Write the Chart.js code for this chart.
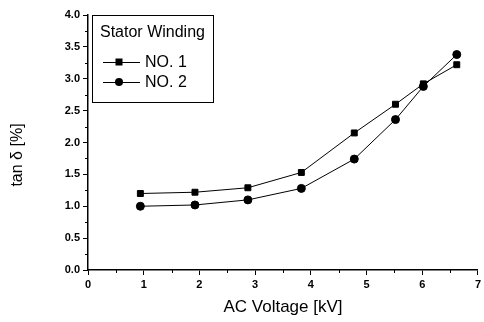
<!DOCTYPE html>
<html>
<head>
<meta charset="utf-8">
<script src="https://cdn.jsdelivr.net/npm/chart.js@4"></script>
<style>
  html, body { margin: 0; padding: 0; background: #fff; }
  #wrap { width: 484px; height: 322px; position: relative; }
</style>
</head>
<body>
<div id="wrap"><canvas id="c"></canvas></div>
<script>
// tan delta vs AC voltage, two stator windings
const VOLTAGE = [0.94, 1.92, 2.87, 3.83, 4.78, 5.52, 6.02, 6.62];
const NO1 = [1.20, 1.22, 1.29, 1.53, 2.15, 2.60, 2.92, 3.22];
const NO2 = [1.00, 1.02, 1.10, 1.28, 1.74, 2.36, 2.88, 3.38];
const SERIES_LABELS = ['NO. 1', 'NO. 2'];
const LEGEND_TITLE = 'Stator Winding';
const X_TITLE = 'AC Voltage [kV]';
const Y_TITLE = 'tan \u03b4 [%]';

const FONT = 'Arial, "Liberation Sans", Helvetica, sans-serif';

function pts(ys) { return ys.map((y, i) => ({ x: VOLTAGE[i], y })); }

// minor ticks halfway between the major ones, pointing outward
const minorTicks = {
  id: 'minorTicks',
  afterDraw(chart) {
    const c = chart.ctx, xs = chart.scales.x, ys = chart.scales.y;
    c.save();
    c.strokeStyle = '#000';
    c.lineWidth = 1;
    c.beginPath();
    for (let v = 0.5; v < 7; v += 1) {
      const px = Math.round(xs.getPixelForValue(v)) + 0.5;
      c.moveTo(px, xs.top); c.lineTo(px, xs.top + 3);
    }
    for (let v = 0.25; v < 4; v += 0.5) {
      const py = Math.round(ys.getPixelForValue(v)) + 0.5;
      c.moveTo(ys.right, py); c.lineTo(ys.right - 3, py);
    }
    c.stroke();
    c.restore();
  }
};

// y title sits a bit below the middle of the axis in the original
const yTitle = {
  id: 'yTitle',
  afterDraw(chart) {
    const c = chart.ctx;
    c.save();
    c.translate(18, 155);
    c.rotate(-Math.PI / 2);
    c.fillStyle = '#000';
    c.font = '16px ' + FONT;
    c.textAlign = 'center';
    c.textBaseline = 'middle';
    c.fillText(Y_TITLE, 0, 0);
    c.restore();
  }
};

// boxed legend inside the plot, top left
const boxLegend = {
  id: 'boxLegend',
  afterDraw(chart) {
    const c = chart.ctx;
    const x0 = 92, y0 = 15, w = 121, h = 87;
    c.save();
    c.fillStyle = '#fff';
    c.fillRect(x0, y0, w, h);
    c.strokeStyle = '#000';
    c.lineWidth = 1;
    c.strokeRect(x0 + 0.5, y0 + 0.5, w, h);
    c.fillStyle = '#000';
    c.font = '16px ' + FONT;
    c.textBaseline = 'middle';
    c.fillText(LEGEND_TITLE, x0 + 8, y0 + 18);
    chart.data.datasets.forEach((ds, i) => {
      const y = y0 + 47 + i * 20;
      c.beginPath();
      c.moveTo(x0 + 11, y + 0.5); c.lineTo(x0 + 48, y + 0.5);
      c.stroke();
      const mx = x0 + 27;
      if (ds.pointStyle === 'rect') {
        c.fillRect(mx - 3.5, y - 3.5, 7, 7);
      } else {
        c.beginPath(); c.arc(mx, y, 4, 0, Math.PI * 2); c.fill();
      }
      c.fillText(ds.label, x0 + 53, y + 1);
    });
    c.restore();
  }
};

new Chart(document.getElementById('c'), {
  type: 'line',
  data: {
    datasets: [
      {
        label: SERIES_LABELS[0], data: pts(NO1),
        borderColor: '#000', backgroundColor: '#000', borderWidth: 1,
        pointStyle: 'rect', pointRadius: 4.2, tension: 0
      },
      {
        label: SERIES_LABELS[1], data: pts(NO2),
        borderColor: '#000', backgroundColor: '#000', borderWidth: 1,
        pointStyle: 'circle', pointRadius: 4, tension: 0
      }
    ]
  },
  options: {
    responsive: true,
    maintainAspectRatio: false,
    animation: false,
    layout: { padding: { top: 15, right: 6, bottom: 0, left: 0 } },
    plugins: { legend: { display: false }, tooltip: { enabled: false } },
    scales: {
      x: {
        type: 'linear', min: 0, max: 7,
        afterFit(s) { s.height = 52; },
        ticks: { stepSize: 1, color: '#000', padding: 3,
                 font: { family: FONT, size: 11, weight: 'bold' } },
        grid: { drawOnChartArea: false, drawTicks: true, tickLength: 5, color: '#000' },
        border: { color: '#000', width: 1.5 },
        title: { display: true, text: X_TITLE, color: '#000',
                 font: { family: FONT, size: 17 }, padding: { top: 6, bottom: 4 } }
      },
      y: {
        min: 0, max: 4,
        afterFit(s) { s.width = 88; },
        ticks: { stepSize: 0.5, color: '#000', padding: 3,
                 font: { family: FONT, size: 11, weight: 'bold' },
                 callback: v => v.toFixed(1) },
        grid: { drawOnChartArea: false, drawTicks: true, tickLength: 5, color: '#000' },
        border: { color: '#000', width: 1.5 },
        title: { display: false }
      }
    }
  },
  plugins: [minorTicks, yTitle, boxLegend]
});
</script>
</body>
</html>
